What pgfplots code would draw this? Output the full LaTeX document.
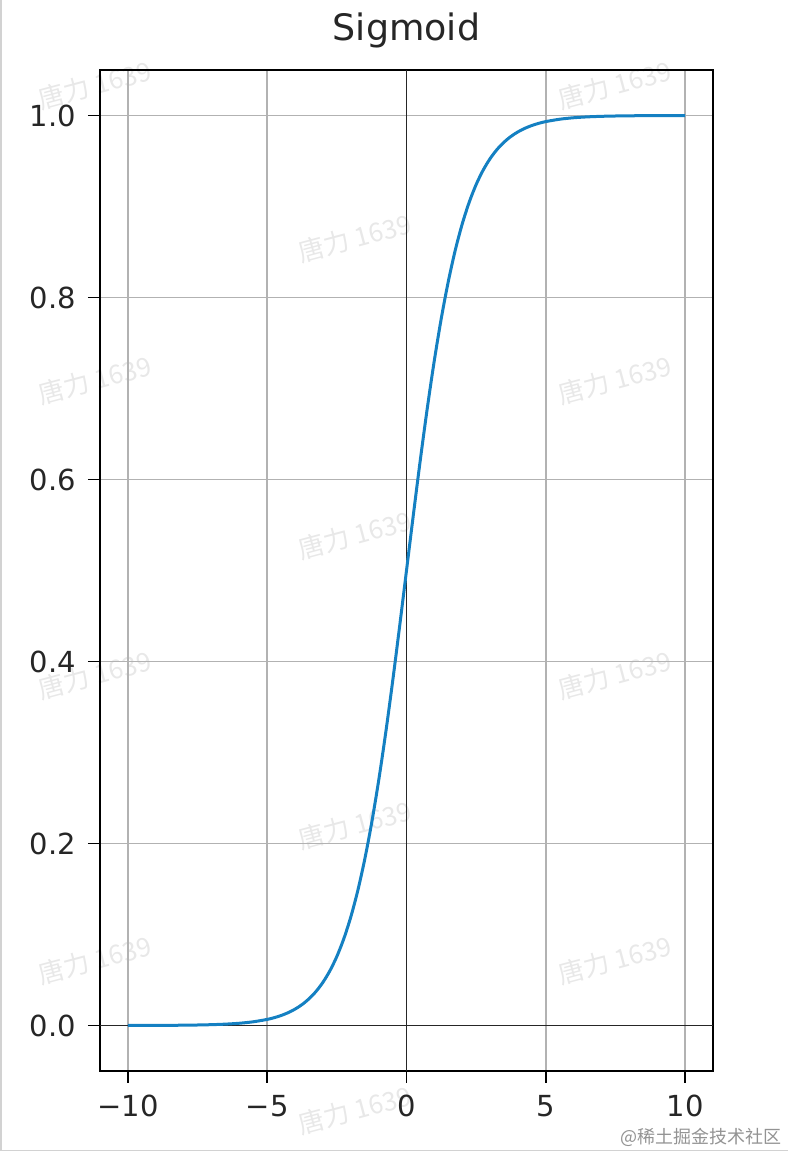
\documentclass[border=0pt]{standalone}
\usepackage{fontspec}
\setmainfont{DejaVu Sans}
\newfontfamily\cjk{Noto Sans CJK SC}
\usepackage{pgfplots}
\pgfplotsset{compat=1.18}

\definecolor{sigblue}{HTML}{1480C2}
\definecolor{wm}{gray}{0.91}

\pgfplotstableread{
x y
-10 0.0000454
-9.5 0.0000749
-9 0.0001234
-8.5 0.0002035
-8 0.0003354
-7.5 0.000553
-7 0.000911
-6.5 0.001501
-6 0.002473
-5.5 0.004070
-5 0.006693
-4.75 0.008577
-4.5 0.010987
-4.25 0.014064
-4 0.017986
-3.75 0.022977
-3.5 0.029312
-3.25 0.037327
-3 0.047426
-2.75 0.060087
-2.5 0.075858
-2.25 0.095349
-2 0.119203
-1.75 0.148047
-1.5 0.182426
-1.25 0.222700
-1 0.268941
-0.75 0.320821
-0.5 0.377541
-0.25 0.437823
0 0.5
0.25 0.562177
0.5 0.622459
0.75 0.679179
1 0.731059
1.25 0.777300
1.5 0.817574
1.75 0.851953
2 0.880797
2.25 0.904651
2.5 0.924142
2.75 0.939913
3 0.952574
3.25 0.962673
3.5 0.970688
3.75 0.977023
4 0.982014
4.25 0.985936
4.5 0.989013
4.75 0.991423
5 0.993307
5.5 0.995930
6 0.997527
6.5 0.998499
7 0.999089
7.5 0.999447
8 0.999665
8.5 0.999797
9 0.999877
9.5 0.999925
10 0.999955
}\sigdata

\begin{document}
\begin{tikzpicture}
\path[use as bounding box] (-50pt,-40.5pt) rectangle (344pt,535.5pt);
\draw[gray!35, line width=0.7pt] (-49.5pt,535.5pt) -- (-49.5pt,-39.6pt) -- (344pt,-39.6pt);
% watermarks
\foreach \px/\py in {-2.5/493, 257.5/493, 127.5/416.5, -2.5/345.5, 257.5/345.5, 127.5/268, -2.5/198, 257.5/198, 127.5/123, -2.5/55.5, 257.5/55.5, 127.5/-19.5}{
  \node[rotate=15, text=wm, font=\cjk\fontsize{13}{15}\selectfont] at (\px pt,\py pt) {唐力 1639};
}
\begin{axis}[
    scale only axis,
    width=306.5pt, height=500.5pt,
    xmin=-11, xmax=11, ymin=-0.05, ymax=1.05,
    xtick={-10,-5,0,5,10},
    xticklabels={−10,−5,0,5,10},
    ytick={0,0.2,0.4,0.6,0.8,1.0},
    yticklabels={0.0,0.2,0.4,0.6,0.8,1.0},
    tick align=outside,
    major tick length=6pt,
    tick style={black, line width=0.8pt},
    xtick pos=bottom, ytick pos=left,
    axis line style={black, line width=1pt},
    grid=major,
    major grid style={gray!60, line width=0.8pt},
    ticklabel style={font=\fontsize{14.5}{17}\selectfont, text=black!85},
    yticklabel style={xshift=-2.5pt},
    xticklabel style={yshift=-2.5pt},
    title={Sigmoid},
    title style={at={(0.5,1)}, anchor=base, yshift=8.5pt, font=\fontsize{18.2}{22}\selectfont, text=black!85},
]
\addplot[draw=black!85, line width=0.7pt, forget plot] coordinates {(-11,0) (11,0)};
\addplot[draw=black!85, line width=0.7pt, forget plot] coordinates {(0,-0.05) (0,1.05)};
\addplot[sigblue, line width=1.5pt, smooth] table[x=x, y=y] {\sigdata};
\end{axis}
\node[anchor=base east, inner sep=0pt, text=gray!85, font=\cjk\fontsize{9}{10}\selectfont] at (341pt,-36pt) {@稀土掘金技术社区};
\end{tikzpicture}
\end{document}
